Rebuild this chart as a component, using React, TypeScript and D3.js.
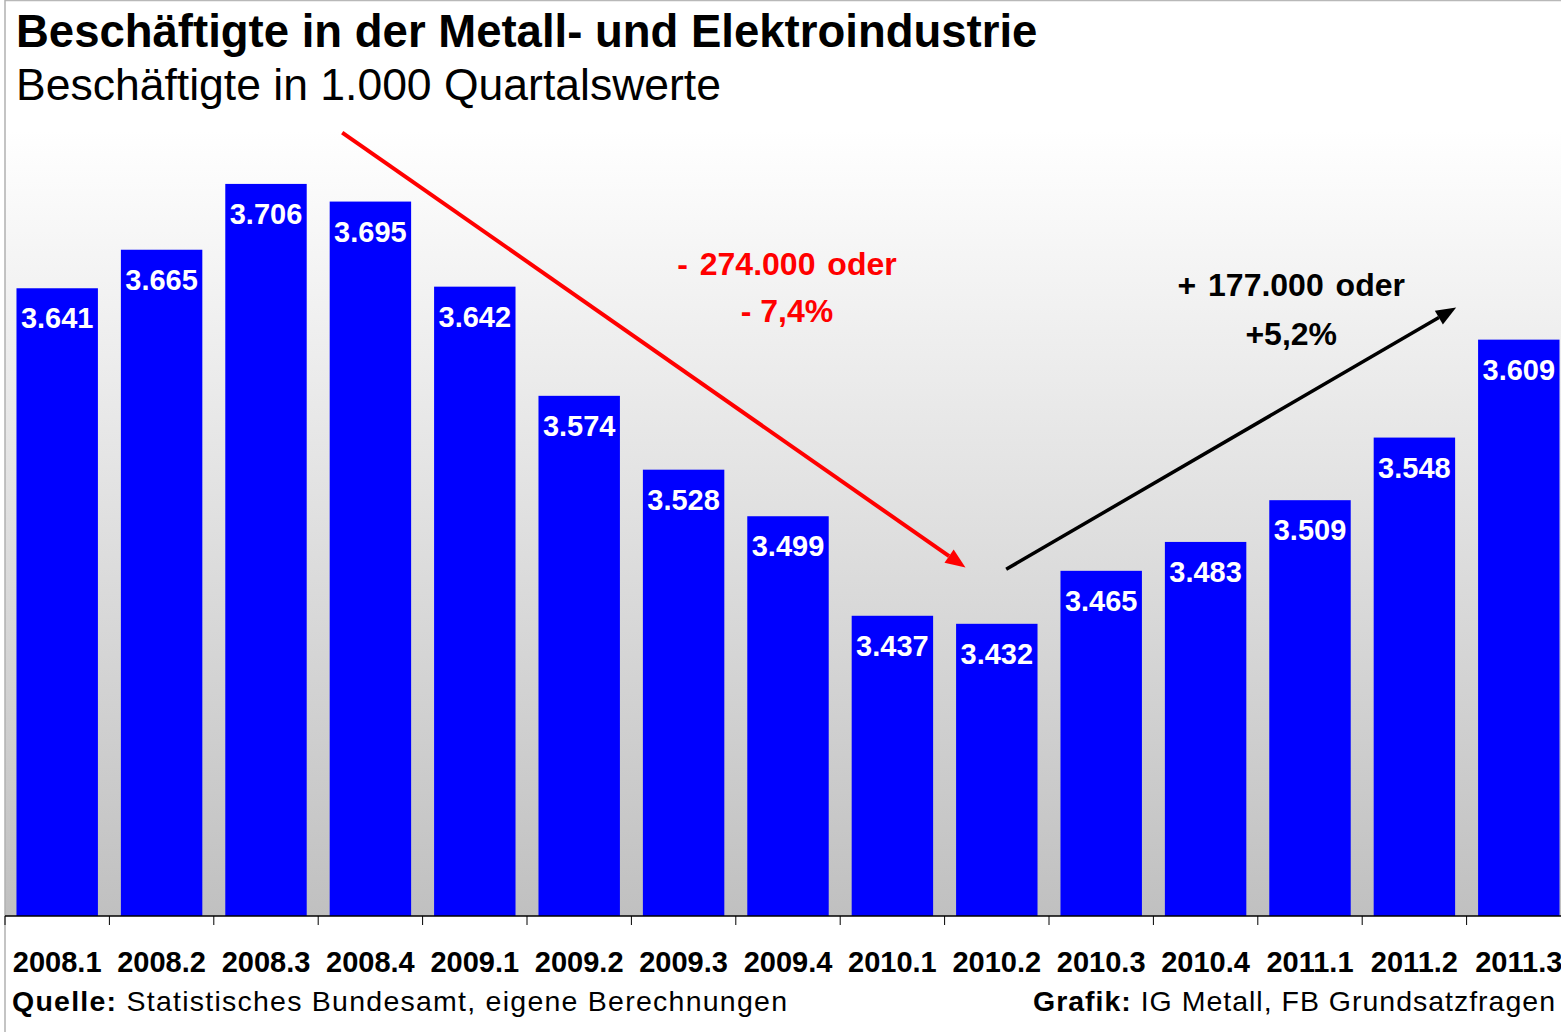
import React from "react";
import * as d3 from "d3";

const categories = ["2008.1","2008.2","2008.3","2008.4","2009.1","2009.2","2009.3","2009.4","2010.1","2010.2","2010.3","2010.4","2011.1","2011.2","2011.3"];
const values = [3641,3665,3706,3695,3642,3574,3528,3499,3437,3432,3465,3483,3509,3548,3609];
const valueLabels = ["3.641","3.665","3.706","3.695","3.642","3.574","3.528","3.499","3.437","3.432","3.465","3.483","3.509","3.548","3.609"];
const yDomain = [3250, 3800];

// annotation arrows: [startIndex, startValue, endIndex, endValue]
const downArrow = [2.73, 3738, 8.70, 3467];
const upArrow = [9.09, 3466, 13.40, 3629];
const downText = ["- 274.000 oder", "- 7,4%"];
const upText = ["+ 177.000 oder", "+5,2%"];

const W = 1561, H = 1032;
const FONT = "'Liberation Sans', Arial, Helvetica, sans-serif";

export default function App() {
  const x0 = 5, step = 104.4;
  const x = d3.scaleBand<string>().domain(categories).range([x0, x0 + step * categories.length]).paddingInner(0.22).paddingOuter(0.11);
  const xi = d3.scaleLinear().domain([-0.5, categories.length - 0.5]).range([x0, x0 + step * categories.length]);
  const y = d3.scaleLinear().domain(yDomain).range([916, 33]);
  const plotTop = 33, plotBottom = 916;

  const arrow = (a: number[], color: string, w: number) => {
    const x1 = xi(a[0]), y1 = y(a[1]), x2 = xi(a[2]), y2 = y(a[3]);
    const ang = Math.atan2(y2 - y1, x2 - x1);
    const L = 20, hw = 8;
    const bx = x2 - L * Math.cos(ang), by = y2 - L * Math.sin(ang);
    const px = -Math.sin(ang) * hw, py = Math.cos(ang) * hw;
    return (
      <g>
        <line x1={x1} y1={y1} x2={bx} y2={by} stroke={color} strokeWidth={w} />
        <path d={`M${x2},${y2}L${bx + px},${by + py}L${bx - px},${by - py}Z`} fill={color} />
      </g>
    );
  };

  const ticks = d3.range(categories.length + 1).map((i) => x0 + step * i);

  return (
    <svg width={W} height={H} style={{ position: "absolute", left: 0, top: 0, display: "block" }} fontFamily={FONT}>
      <defs>
        <linearGradient id="bg" x1="0" y1="0" x2="0" y2="1">
          <stop offset="0" stopColor="#ffffff" />
          <stop offset="0.11" stopColor="#ffffff" />
          <stop offset="1" stopColor="#c0c0c0" />
        </linearGradient>
      </defs>
      <rect x={0} y={0} width={W} height={H} fill="#fff" />
      <rect x={x0} y={plotTop} width={W - x0} height={plotBottom - plotTop} fill="url(#bg)" />
      <line x1={x0} y1={0.5} x2={W} y2={0.5} stroke="#b8b8b8" strokeWidth={1.5} />
      <line x1={x0} y1={0} x2={x0} y2={H} stroke="#b0b0b0" strokeWidth={1.5} />

      {categories.map((c, i) => (
        <rect key={c} x={x(c)} y={y(values[i])} width={x.bandwidth()} height={plotBottom - y(values[i])} fill="#0000ff" />
      ))}
      {categories.map((c, i) => (
        <text key={c + "l"} x={(x(c) as number) + x.bandwidth() / 2} y={y(values[i]) + 40} textAnchor="middle" fill="#fff" fontWeight="bold" fontSize={29}>
          {valueLabels[i]}
        </text>
      ))}

      <line x1={x0} y1={plotBottom} x2={W} y2={plotBottom} stroke="#000" strokeWidth={1.5} />
      {ticks.map((t, i) => (
        <line key={"t" + i} x1={t} y1={plotBottom} x2={t} y2={plotBottom + 9} stroke="#000" strokeWidth={1} />
      ))}
      {categories.map((c) => (
        <text key={c + "c"} x={(x(c) as number) + x.bandwidth() / 2} y={972} textAnchor="middle" fill="#000" fontWeight="bold" fontSize={29}>
          {c}
        </text>
      ))}

      {arrow(downArrow, "#ff0000", 4)}
      {arrow(upArrow, "#000000", 3.5)}

      <text x={xi(6.99)} y={275} textAnchor="middle" fill="#ff0000" fontWeight="bold" fontSize={32} wordSpacing={3}>{downText[0]}</text>
      <text x={xi(6.99)} y={322} textAnchor="middle" fill="#ff0000" fontWeight="bold" fontSize={32}>{downText[1]}</text>
      <text x={xi(11.82)} y={296} textAnchor="middle" fill="#000" fontWeight="bold" fontSize={32} wordSpacing={3}>{upText[0]}</text>
      <text x={xi(11.82)} y={345} textAnchor="middle" fill="#000" fontWeight="bold" fontSize={32}>{upText[1]}</text>

      <text x={16} y={47} fontWeight="bold" fontSize={45.5} fill="#000">Beschäftigte in der Metall- und Elektroindustrie</text>
      <text x={16} y={100} fontSize={44.5} fill="#000">Beschäftigte in 1.000 Quartalswerte</text>

      <text x={12} y={1011} fontSize={28.5} fill="#000" textLength={775} lengthAdjust="spacing">
        <tspan fontWeight="bold">Quelle:</tspan> Statistisches Bundesamt, eigene Berechnungen
      </text>
      <text x={1033} y={1011} fontSize={28.5} fill="#000" textLength={522} lengthAdjust="spacing">
        <tspan fontWeight="bold">Grafik:</tspan> IG Metall, FB Grundsatzfragen
      </text>
    </svg>
  );
}
